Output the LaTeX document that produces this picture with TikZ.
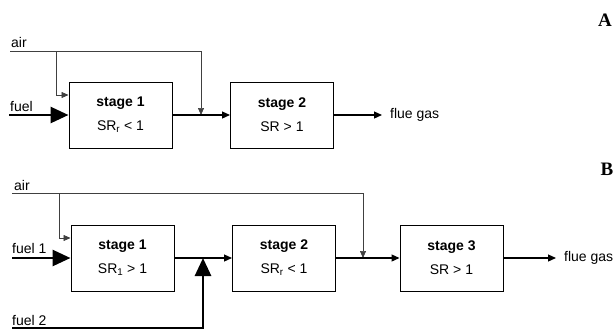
\documentclass[tikz,border=0pt]{standalone}
\usepackage{fontspec}
\setmainfont{Liberation Sans}
\newfontfamily\panelfont{Liberation Serif}
\usetikzlibrary{arrows.meta,positioning}

\begin{document}
\begin{tikzpicture}[x=1pt,y=-1pt,
  every node/.style={font=\fontsize{14}{17}\selectfont},
  stagebox/.style={draw,line width=1pt,minimum width=103pt,minimum height=66pt,align=center,inner sep=0pt},
  flow/.style={line width=1.2pt,-{Triangle[length=8pt,width=7pt]}},
  airline/.style={line width=0.7pt,draw=black!75,-{Triangle[length=7pt,width=6pt]}},
  fuelline/.style={line width=2.8pt,-{Triangle[length=18pt,width=16pt]}},
  lbl/.style={anchor=base west,inner sep=0pt},
  panel/.style={font=\panelfont\bfseries\fontsize{19}{20}\selectfont,anchor=base,inner sep=0pt}]
\useasboundingbox (0,0) rectangle (616,330);

% panel A
\node[panel] (pA) at (605,26) {A};
\node[stagebox] (s1A) at (120.5,115) {\textbf{stage 1}\\[7pt]SR\textsubscript{r} < 1};
\node[stagebox] (s2A) at (282,115) {\textbf{stage 2}\\[7pt]SR > 1};
\node[anchor=west,inner xsep=8pt] (fgA) at (382,115) {flue gas};
\coordinate (airA) at (10,51);
\coordinate (bA) at (56,51);
\coordinate (jA) at (201,115);
\coordinate (fuelA) at (9,115);
\node[lbl] (tairA) at (11,47) {air};
\node[lbl] (tfuelA) at (10,111) {fuel};
\draw[airline] (airA) -| (jA);
\draw[airline] (bA) |- ([yshift=20pt]s1A.west);
\draw[fuelline] (fuelA) -- (s1A);
\draw[flow] (s1A) -- (s2A);
\draw[flow] (s2A) -- (fgA);

% panel B
\node[panel] (pB) at (607,175) {B};
\node[stagebox] (s1B) at (122.5,258) {\textbf{stage 1}\\[7pt]SR\textsubscript{1} > 1};
\node[stagebox] (s2B) at (284,258) {\textbf{stage 2}\\[7pt]SR\textsubscript{r} < 1};
\node[stagebox] (s3B) at (451.5,258) {\textbf{stage 3}\\[7pt]SR > 1};
\node[anchor=west,inner xsep=8pt] (fgB) at (556,258) {flue gas};
\coordinate (airB) at (12,193);
\coordinate (bB) at (59,193);
\coordinate (jB) at (363,258);
\coordinate (fuel1) at (12,258);
\coordinate (fuel2) at (12,328);
\coordinate (jF) at (203,258);
\node[lbl] (tairB) at (14,190) {air};
\node[lbl] (tfuel1) at (12,253) {fuel 1};
\node[lbl] (tfuel2) at (12,325) {fuel 2};
\draw[airline] (airB) -| (jB);
\draw[airline] (bB) |- ([yshift=20pt]s1B.west);
\draw[fuelline] (fuel1) -- (s1B);
\draw[fuelline] (fuel2) -| (jF);
\draw[flow] (s1B) -- (s2B);
\draw[flow] (s2B) -- (s3B);
\draw[flow] (s3B) -- (fgB);
\end{tikzpicture}
\end{document}
